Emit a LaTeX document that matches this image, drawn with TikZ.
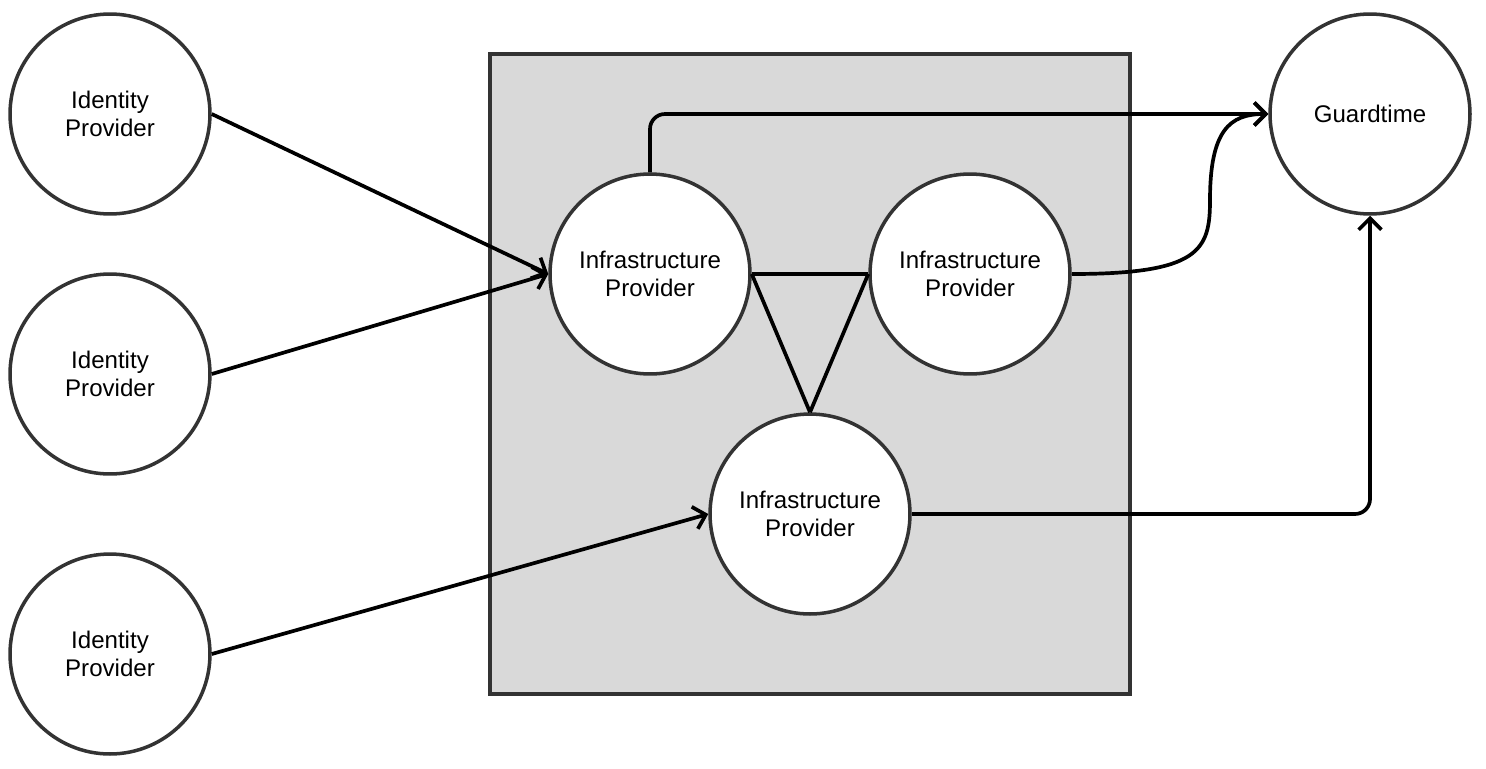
\documentclass[tikz,border=0pt]{standalone}
\usepackage{fontspec}
\setmainfont{Liberation Sans}
\usetikzlibrary{arrows.meta}
\definecolor{rim}{HTML}{333333}
\definecolor{panel}{HTML}{D9D9D9}
\tikzset{
	party/.style={shape=circle,draw=rim,fill=white,line width=2pt,minimum size=4cm,inner sep=0pt,align=center,font=\fontsize{13.7}{15.9}\selectfont},
	link/.style={line width=2.1pt,-{Straight Barb[length=6.5pt,width=13pt,line width=2.1pt]}},
	tie/.style={line width=2.1pt}
}
\begin{document}
\begin{tikzpicture}[x=0.02cm,y=-0.02cm]
	\useasboundingbox (0,0) rectangle (1486,768);
	\draw[rim,fill=panel,line width=2pt] (490,54) rectangle (1130,694);
	\node[party] (id1) at (110, 114)     {Identity\\Provider};
	\node[party] (id2) at (110, 374)     {Identity\\Provider};
	\node[party] (id3) at (110, 654)     {Identity\\Provider};
	\node[party] (ip1) at (650, 274)     {Infrastructure\\Provider};
	\node[party] (ip2) at (970, 274)     {Infrastructure\\Provider};
	\node[party] (ip3) at (810, 514)     {Infrastructure\\Provider};
	\node[party] (gt)  at (1370, 114)    {Guardtime};
	\draw[link] (id1.east) -- (ip1.west);
	\draw[link] (id2.east) -- (ip1.west);
	\draw[link] (id3.east) -- (ip3.west);
	\draw[tie] (ip1.east) -- (ip2.west);
	\draw[tie] (ip1.east) -- (ip3.north);
	\draw[tie] (ip2.west) -- (ip3.north);
	\draw[link,rounded corners=0.3cm] (ip1.north) |- (gt.west);
	\draw[link] (ip2.east) .. controls (1200,274) and (1210,250) .. (1210,200) .. controls (1210,130) and (1230,114) .. (gt.west);
	\draw[link,rounded corners=0.3cm] (ip3.east) -| (gt.south);
\end{tikzpicture}
\end{document}
